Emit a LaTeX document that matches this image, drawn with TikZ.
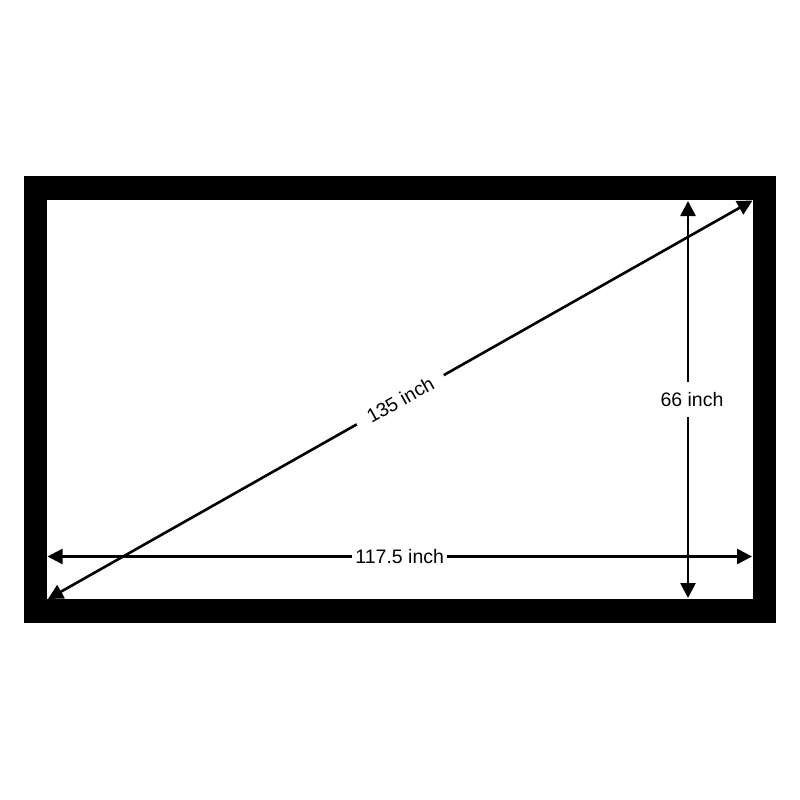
\documentclass[tikz,border=0pt]{standalone}
\usepackage{fontspec}
\setmainfont{Liberation Sans}
\usetikzlibrary{arrows.meta,positioning}
\tikzset{
		>={Triangle[length=15pt,width=15pt]},
		frame/.style={fill=black},
		screen/.style={fill=white},
		dimline/.style={draw, line width=2.6pt, <->},
		dimlabel/.style={
			fill=white,
			inner sep=0pt,
			font=\fontsize{19.5}{22}\selectfont},
	}
\begin{document}
\begin{tikzpicture}[x=1pt, y=-1pt]
			\useasboundingbox (0,0) rectangle (800,800);
			% black border and white screen
			\fill[frame] (23.5,176) rectangle (776,623);
			\fill[screen] (47,200) rectangle (753,599);
			
			\coordinate (bl) at (48,599);
			\coordinate (tr) at (752.5,200.5);
			\coordinate (left) at (47.5,556.5);
			\coordinate (right) at (752,556.5);
			\coordinate (top) at (688,201);
			\coordinate (bottom) at (688,598);
			
			\draw[dimline] (bl) -- node[dimlabel, sloped, inner xsep=13pt, inner ysep=4pt] (diag) {135 inch} (tr);
			\draw[dimline] (top) -- node[dimlabel, inner ysep=10pt, inner xsep=3pt, xshift=4pt] (height) {66 inch} (bottom);
			\draw[dimline] (left) -- node[dimlabel, inner xsep=3pt, inner ysep=3pt] (width) {117.5 inch} (right);
\end{tikzpicture}
\end{document}
